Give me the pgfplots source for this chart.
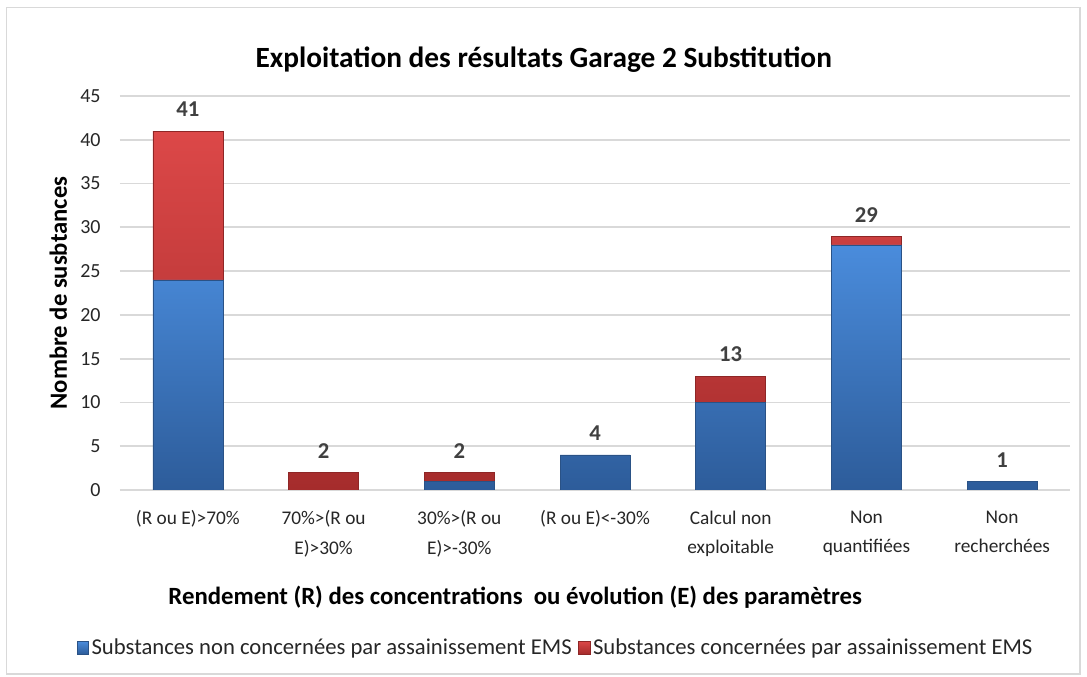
\documentclass[border=0pt]{standalone}
\usepackage{fontspec}
\setmainfont{Carlito}
\usepackage{pgfplots}
\usepackage{pgfplotstable}
\pgfplotsset{compat=1.18}
\definecolor{gridgray}{HTML}{D9D9D9}
\definecolor{framegray}{HTML}{D9D9D9}
\definecolor{blueT}{HTML}{4A8CDC}
\definecolor{blueB}{HTML}{2D5C9A}
\definecolor{blueD}{HTML}{2A5286}
\definecolor{redT}{HTML}{DC4848}
\definecolor{redB}{HTML}{A52C2C}
\definecolor{redD}{HTML}{8E2626}
\definecolor{labelgray}{HTML}{404040}
\definecolor{textdark}{HTML}{262626}

% x: category index, blue: non concernees, red: concernees
\pgfplotstableread{
x blue red total
0 24 17 41
1 0  2  2
2 1  1  2
3 4  0  4
4 10 3  13
5 28 1  29
6 1  0  1
}\datatable

\pgfplotsset{chartbox/.style={
  scale only axis,
  width=712.5pt, height=295.5pt,
  xmin=-0.5, xmax=6.5,
  ymin=0, ymax=45,
  /pgf/number format/assume math mode=true,
}}

\begin{document}
\begin{tikzpicture}
\begin{axis}[
  chartbox,
  ybar stacked,
  bar width=52.5pt,
  ytick={0,5,...,45},
  xtick={0,...,6},
  xticklabels={{(R ou E)>70\%},{70\%>(R ou\\E)>30\%},{30\%>(R ou\\E)>-30\%},{(R ou E)<-30\%},{Calcul non\\exploitable},{Non\\quantifiées},{Non\\recherchées}},
  xticklabel style={align=center, font=\fontsize{14.5}{22}\selectfont, text=textdark, yshift=-12pt},
  yticklabel style={font=\fontsize{15}{18}\selectfont, text=textdark, xshift=-11pt},
  major tick length=0pt,
  axis line style={draw=none},
  ymajorgrids,
  grid style={gridgray, line width=1.3pt},
  title={Exploitation des résultats Garage 2 Substitution},
  title style={font=\bfseries\fontsize{22}{26}\selectfont, text=black, at={(axis description cs:0.446,1.072)}, anchor=center},
  xlabel={Rendement (R) des concentrations~ ou évolution (E) des paramètres},
  xlabel style={font=\bfseries\fontsize{18.6}{22}\selectfont, text=black, at={(axis description cs:0.416,-0.272)}, anchor=center},
  ylabel={Nombre de susbtances},
  ylabel style={font=\bfseries\fontsize{18.5}{22}\selectfont, text=black, at={(axis description cs:-0.065,0.5)}, anchor=center, rotate=0},
  legend style={at={(axis description cs:0.459,-0.40)}, anchor=center, draw=none, fill=none, legend columns=2, font=\fontsize{17}{20}\selectfont, text=textdark, /tikz/every even column/.append style={column sep=3pt}},
  legend cell align=left,
  legend image code/.code={\path[#1] (0cm,-0.17cm) rectangle (0.3cm,0.17cm);},
]
\addplot[draw=blueD, top color=blueT, bottom color=blueB] table[x=x, y=blue] {\datatable};
\addplot[draw=redD, top color=redT, bottom color=redB] table[x=x, y=red] {\datatable};
\legend{Substances non concernées par assainissement EMS, Substances concernées par assainissement EMS}
\end{axis}
% totals above each bar
\begin{axis}[chartbox, hide axis]
\addplot[draw=none, mark=none,
  nodes near coords, point meta=explicit,
  nodes near coords style={font=\bfseries\fontsize{17}{20}\selectfont, text=labelgray, anchor=south, yshift=7pt}]
  table[x=x, y=total, meta=total] {\datatable};
\end{axis}
\draw[framegray, line width=0.8pt] (-85pt,-138pt) rectangle (720pt,362pt);
\useasboundingbox (-90pt,-140.25pt) rectangle (725.25pt,367.5pt);
\end{tikzpicture}
\end{document}
